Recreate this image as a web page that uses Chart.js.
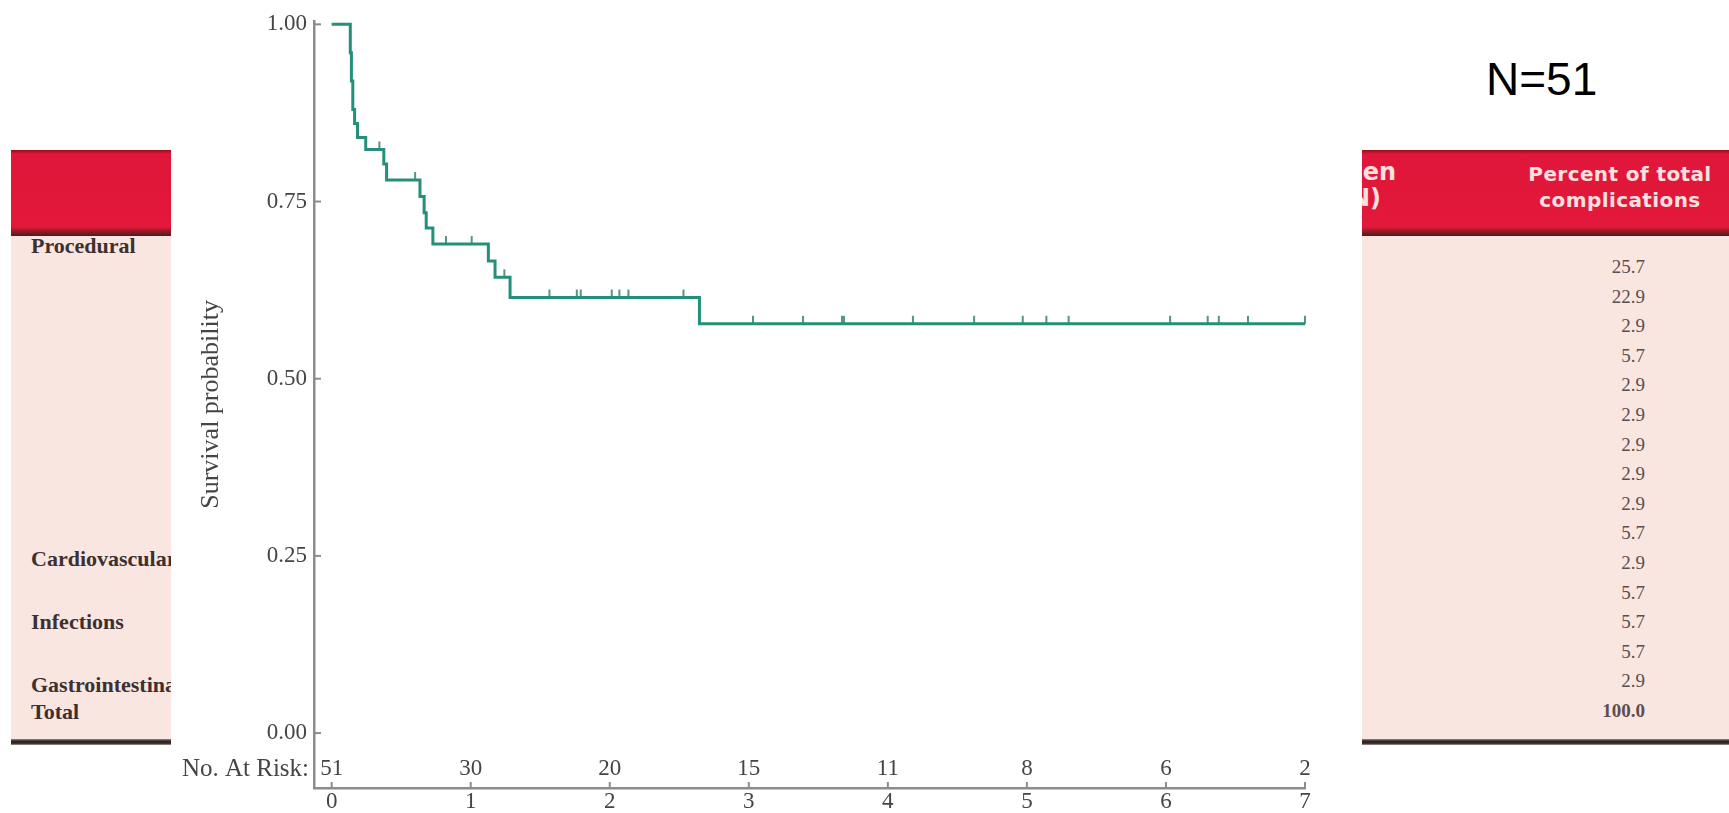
<!DOCTYPE html>
<html>
<head>
<meta charset="utf-8">
<script src="https://cdn.jsdelivr.net/npm/chart.js@4.4.1/dist/chart.umd.min.js"></script>
<style>
html,body{margin:0;padding:0;background:#fff;width:1729px;height:813px;overflow:hidden;position:relative;}
#tbl{position:absolute;left:11px;top:150px;width:1718px;height:595px;background:#fae6e0;z-index:1;}
#hdr{position:absolute;left:0;top:0;width:100%;height:86px;background:linear-gradient(to bottom,#9a0e1c 0px,#e0173a 4px,#e3183b 77px,#9a1a26 81px,#4a1c1c 86px);}
#bot{position:absolute;left:0;top:589px;width:100%;height:6px;background:linear-gradient(#9a8a88,#2f2525 35%,#2f2525 70%,#a89896);}
.lab{position:absolute;left:20px;font:bold 22px "Liberation Serif",serif;color:#3d3030;transform:translateY(-50%);white-space:nowrap;}
.val{position:absolute;right:84px;font:19px "Liberation Serif",serif;color:#5a4e4e;transform:translateY(-50%);white-space:nowrap;text-align:right;}
.hd{position:absolute;font:bold 20px "DejaVu Sans",sans-serif;color:#fbe0e0;white-space:nowrap;letter-spacing:0.4px;}
.hd2{position:absolute;font:bold 24px "DejaVu Sans",sans-serif;color:#fbe0e0;white-space:nowrap;}
#chartBox{position:absolute;left:171px;top:0;width:1191px;height:813px;background:#fff;z-index:2;}
#nlabel{position:absolute;left:1486px;top:52px;font:46px "Liberation Sans",Arial,sans-serif;color:#000;z-index:3;}
</style>
</head>
<body>
<div id="tbl">
  <div id="hdr"></div>
  <div class="hd2" style="right:333px;top:8px;text-align:right;">Times seen</div>
  <div class="hd2" style="right:348px;top:34px;text-align:right;">(N)</div>
  <div class="hd" style="left:1509px;top:12px;width:200px;text-align:center;">Percent of total</div>
  <div class="hd" style="left:1509px;top:38px;width:200px;text-align:center;">complications</div>
  <div id="rows"></div>
  <div id="bot"></div>
</div>
<div id="chartBox"><canvas id="c" width="1191" height="813"></canvas></div>
<div id="nlabel">N=51</div>
<script>
// ---- Kaplan-Meier curve (time in years, survival probability) ----
const kmTimes = [0, 0.134, 0.142, 0.152, 0.165, 0.186, 0.245, 0.375, 0.395, 0.635, 0.665, 0.68, 0.728, 1.127, 1.175, 1.283, 2.645, 7.0];
const kmSurv  = [1.0, 0.96, 0.92, 0.88, 0.86, 0.8405, 0.8235, 0.803, 0.7805, 0.757, 0.734, 0.7125, 0.69, 0.666, 0.643, 0.6145, 0.5775, 0.5775];
// ---- censoring marks (time in years) ----
const censorTimes = [0.343, 0.60, 0.822, 1.007, 1.242, 1.566, 1.763, 1.791, 2.014, 2.069, 2.134, 2.53,
                     3.03, 3.39, 3.67, 3.685, 4.18, 4.62, 4.97, 5.14, 5.30, 6.03, 6.30, 6.38, 6.59, 7.0];
// ---- axes ----
const xTickValues = [0, 1, 2, 3, 4, 5, 6, 7];
const yTickValues = [0, 0.25, 0.5, 0.75, 1];
const atRisk = [51, 30, 20, 15, 11, 8, 6, 2];
// ---- background table ----
const categoryNames = ['Procedural', 'Cardiovascular', 'Infections', 'Gastrointestinal', 'Total'];
const percentValues = ['25.7','22.9','2.9','5.7','2.9','2.9','2.9','2.9','2.9','5.7','2.9','5.7','5.7','5.7','2.9','100.0'];

// build table text
(function(){
  const rows = document.getElementById('rows');
  const labTops = [96, 409, 472, 535, 562];
  categoryNames.forEach((n, i) => {
    const d = document.createElement('div');
    d.className = 'lab'; d.textContent = n; d.style.top = labTops[i] + 'px';
    rows.appendChild(d);
  });
  percentValues.forEach((v, i) => {
    const d = document.createElement('div');
    d.className = 'val'; d.textContent = v; d.style.top = (117 + 29.6 * i) + 'px';
    if (i === percentValues.length - 1) d.style.fontWeight = 'bold';
    rows.appendChild(d);
  });
})();

function survAt(t) {
  let s = kmSurv[0];
  for (let i = 0; i < kmTimes.length; i++) if (kmTimes[i] <= t) s = kmSurv[i];
  return s;
}

const lineColor = '#24907a';
const axisColor = '#8c8c8c';
const textColor = '#454545';
const serif = '"Liberation Serif", "Times New Roman", serif';

// censor tick image: a short vertical stroke sitting on top of the curve
const tick = document.createElement('canvas');
tick.width = 4; tick.height = 18;
(function(){
  const g = tick.getContext('2d');
  g.strokeStyle = '#2c7a62'; g.lineWidth = 1.6;
  g.beginPath(); g.moveTo(2, 1); g.lineTo(2, 9); g.stroke();
})();

const axisDecor = {
  id: 'axisDecor',
  afterDraw(chart) {
    const {ctx, chartArea, scales: {x, y}} = chart;
    ctx.save();
    ctx.strokeStyle = axisColor; ctx.lineWidth = 2;
    yTickValues.forEach(v => {
      const py = y.getPixelForValue(v);
      ctx.beginPath(); ctx.moveTo(chartArea.left, py); ctx.lineTo(chartArea.left + 7, py); ctx.stroke();
    });
    xTickValues.forEach(v => {
      const px = x.getPixelForValue(v);
      ctx.beginPath(); ctx.moveTo(px, chartArea.bottom); ctx.lineTo(px, chartArea.bottom - 6); ctx.stroke();
    });
    // number at risk row
    ctx.fillStyle = textColor;
    ctx.textBaseline = 'middle';
    const ry = y.getPixelForValue(-0.051);
    ctx.font = '23px ' + serif;
    ctx.textAlign = 'center';
    atRisk.forEach((n, i) => ctx.fillText(String(n), x.getPixelForValue(xTickValues[i]), ry));
    ctx.font = '25px ' + serif;
    ctx.textAlign = 'right';
    ctx.fillText('No. At Risk:', chartArea.left - 5, ry);
    ctx.restore();
  }
};

new Chart(document.getElementById('c'), {
  type: 'scatter',
  data: {
    datasets: [
      {
        data: kmTimes.map((t, i) => ({x: t, y: kmSurv[i]})),
        showLine: true,
        stepped: 'before',
        borderColor: lineColor,
        borderWidth: 3,
        pointRadius: 0,
        clip: false
      },
      {
        data: censorTimes.map(t => ({x: t, y: survAt(t)})),
        pointStyle: tick,
        pointRadius: 5,
        showLine: false,
        clip: false
      }
    ]
  },
  options: {
    responsive: false,
    devicePixelRatio: 1,
    animation: false,
    layout: {padding: {left: 0, right: 57, top: 19.5, bottom: 0}},
    plugins: {legend: {display: false}, tooltip: {enabled: false}},
    scales: {
      x: {
        type: 'linear', min: -0.127, max: 7,
        afterBuildTicks: s => { s.ticks = xTickValues.map(v => ({value: v})); },
        afterFit: s => { s.height = 25; },
        grid: {display: false, drawTicks: false},
        border: {display: true, color: axisColor, width: 2.5},
        ticks: {padding: 0, color: textColor, font: {family: serif, size: 23}, callback: v => String(v)}
      },
      y: {
        type: 'linear', min: -0.0775, max: 1.005,
        afterBuildTicks: s => { s.ticks = yTickValues.map(v => ({value: v})); },
        afterFit: s => { s.width = 143; },
        grid: {display: false, drawTicks: false},
        border: {display: true, color: axisColor, width: 2.5},
        ticks: {padding: 7, color: textColor, font: {family: serif, size: 23}, callback: v => Number(v).toFixed(2)},
        title: {display: true, text: 'Survival probability', color: textColor, font: {family: serif, size: 26}, padding: {top: 25, bottom: 0}}
      }
    }
  },
  plugins: [axisDecor]
});
</script>
</body>
</html>
